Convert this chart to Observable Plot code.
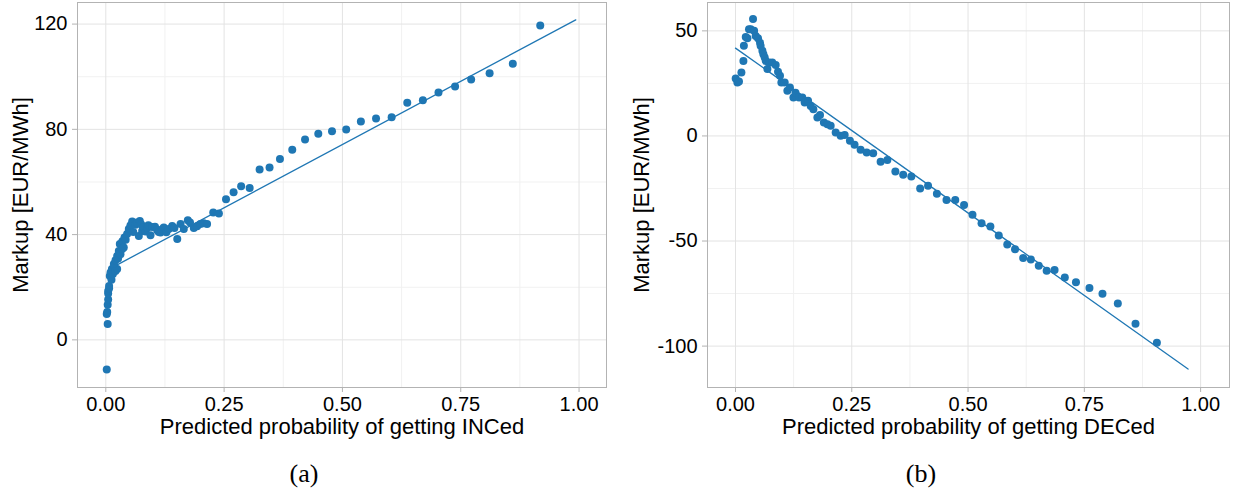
<!DOCTYPE html>
<html><head><meta charset="utf-8">
<script src="https://cdn.jsdelivr.net/npm/d3@7"></script>
<script src="https://cdn.jsdelivr.net/npm/@observablehq/plot@0.6"></script>
<style>
body{margin:0;background:#fff;}
#wrap{position:relative;width:1233px;height:495px;overflow:hidden;background:#fff}
.panel{position:absolute;top:0}
.cap{position:absolute;font-family:"Liberation Serif","Times New Roman",serif;font-size:26px;line-height:1;transform:translateX(-50%);color:#000;white-space:nowrap}
</style></head><body>
<div id="wrap">
  <div id="pa" class="panel" style="left:0"></div>
  <div id="pb" class="panel" style="left:621px"></div>
  <div class="cap" style="left:304px;top:461px">(a)</div>
  <div class="cap" style="left:921px;top:461px">(b)</div>
</div>
<script>
// ---- data: panel (a) INC ----
const incX = [0.002,0.004,0.002,0.003,0.004,0.005,0.005,0.005,0.007,0.007,0.0085,0.010,0.012,0.013,0.015,0.019,0.0205,0.024,0.017,0.0205,0.024,0.026,0.0275,0.0296,0.031,0.0346,0.035,0.038,0.0395,0.042,0.045,0.0486,0.052,0.0557,0.058,0.0627,0.066,0.0698,0.0719,0.075,0.0769,0.080,0.084,0.0874,0.090,0.0944,0.098,0.104,0.1086,0.112,0.1156,0.119,0.1225,0.128,0.133,0.1403,0.145,0.151,0.158,0.1648,0.1733,0.178,0.186,0.193,0.200,0.207,0.214,0.227,0.239,0.254,0.270,0.286,0.304,0.325,0.346,0.368,0.394,0.421,0.449,0.478,0.508,0.539,0.571,0.604,0.637,0.670,0.703,0.738,0.772,0.811,0.860,0.918];
const incY = [-11.3,6.0,9.8,10.6,13.3,15.3,17.6,18.6,19.6,20.5,24.3,25.6,22.8,26.9,25.0,27.5,26.2,26.9,28.8,30.3,31.9,30.9,33.8,36.4,32.5,34.5,37.5,35.1,38.9,38.0,40.2,42.1,43.5,45.0,41.0,43.7,44.6,39.5,45.2,43.8,41.4,42.9,41.2,42.5,43.6,39.8,42.9,43.0,41.7,41.0,40.8,42.0,42.7,40.9,42.1,43.3,42.5,38.3,44.0,42.1,45.5,44.6,42.5,43.2,44.0,44.3,44.0,48.4,48.0,53.4,56.1,58.4,57.7,64.7,65.5,68.7,72.2,76.1,78.3,79.3,79.9,83.0,84.1,84.6,90.1,91.1,94.0,96.3,98.9,101.3,104.9,119.5];
const incFitX = [0.025, 0.993];
const incFitY = [28.6, 121.6];

// ---- data: panel (b) DEC ----
const decX = [0.0004,0.004,0.0075,0.0127,0.017,0.018,0.022,0.0256,0.029,0.0327,0.0377,0.040,0.0434,0.0484,0.0527,0.054,0.0578,0.060,0.0628,0.065,0.0686,0.072,0.079,0.0864,0.0914,0.0957,0.0986,0.1058,0.1115,0.117,0.1245,0.129,0.1366,0.1437,0.1487,0.156,0.1617,0.1674,0.176,0.1817,0.190,0.1975,0.2046,0.2154,0.226,0.2347,0.246,0.256,0.269,0.282,0.296,0.312,0.3265,0.3437,0.3605,0.378,0.397,0.414,0.433,0.4536,0.4725,0.4914,0.5095,0.529,0.548,0.566,0.5843,0.601,0.6185,0.635,0.652,0.669,0.686,0.708,0.732,0.761,0.789,0.822,0.860,0.906];
const decY = [27.3,25.4,25.9,30.2,35.7,42.9,47.1,46.5,50.8,50.8,55.6,50.0,47.6,46.5,44.4,42.9,40.5,38.9,37.3,35.7,31.8,34.9,34.9,33.8,30.6,28.6,25.4,25.4,21.5,23.0,18.3,20.6,18.3,18.3,15.9,16.7,14.3,12.7,8.8,10.0,6.4,5.6,4.8,1.6,0.05,0.5,-2.3,-4.2,-6.6,-7.9,-8.2,-12.3,-11.5,-16.9,-18.5,-19.3,-25.0,-23.7,-27.5,-30.5,-30.5,-32.9,-37.5,-41.5,-43.1,-47.4,-51.7,-53.9,-58.1,-58.8,-61.8,-64.2,-63.8,-67.4,-69.6,-72.3,-75.1,-79.7,-89.4,-98.4];
const decFitX = [0.0, 0.973];
const decFitY = [41.8, -110.9];

// ---- axes ----
const xMajor = [0, 0.25, 0.5, 0.75, 1];
const xMinor = [0.125, 0.375, 0.625, 0.875];
const incYMajor = [0, 40, 80, 120];
const incYMinor = [20, 60, 100];
const decYMajor = [-100, -50, 0, 50];
const decYMinor = [-75, -25, 25];
const xTitleA = "Predicted probability of getting INCed";
const xTitleB = "Predicted probability of getting DECed";
const yTitle = "Markup [EUR/MWh]";

const BLUE = "#1f77b4";

function panel(o) {
  const n = o.xs.length;
  return Plot.plot({
    width: o.width, height: 440,
    marginLeft: o.mL, marginRight: o.mR, marginTop: 2, marginBottom: 53,
    x: {domain: o.xDomain},
    y: {domain: o.yDomain},
    style: {fontFamily: "'Liberation Sans', Arial, sans-serif", fontSize: "20px", color: "#000", background: "#fff", overflow: "visible"},
    marks: [
      Plot.ruleX(xMinor, {stroke: "#f1f1f1", strokeWidth: 1}),
      Plot.ruleY(o.yMinor, {stroke: "#f1f1f1", strokeWidth: 1}),
      Plot.ruleX(xMajor, {stroke: "#e3e3e3", strokeWidth: 1}),
      Plot.ruleY(o.yMajor, {stroke: "#e3e3e3", strokeWidth: 1}),
      Plot.dot({length: n}, {x: o.xs, y: o.ys, r: 4, fill: BLUE, stroke: null}),
      Plot.line({length: o.fx.length}, {x: o.fx, y: o.fy, stroke: BLUE, strokeWidth: 1.3}),
      Plot.frame({stroke: "#b3b3b3"}),
      Plot.axisX(xMajor, {tickSize: 5, tickPadding: 4, tickFormat: d3.format(".2f"), stroke: "#b3b3b3", fill: "#000", label: null}),
      Plot.axisY(o.yMajor, {tickSize: 5, tickPadding: 5, tickFormat: d => String(d), stroke: "#b3b3b3", fill: "#000", label: null}),
      Plot.text([o.xTitle], {text: d => d, frameAnchor: "bottom", textAnchor: "middle", lineAnchor: "top", dy: 31, fontSize: 22, fill: "#000"}),
      Plot.text([yTitle], {text: d => d, frameAnchor: "left", textAnchor: "middle", rotate: -90, lineAnchor: "top", dx: o.yOff, fontSize: 22, fill: "#000"})
    ]
  });
}

document.getElementById("pa").append(panel({
  xs: incX, ys: incY, fx: incFitX, fy: incFitY,
  xDomain: [-0.0598, 1.058], yDomain: [-18.1, 128.2],
  yMajor: incYMajor, yMinor: incYMinor,
  width: 615, mL: 77, mR: 9, xTitle: xTitleA, yOff: -65.3
}));
document.getElementById("pb").append(panel({
  xs: decX, ys: decY, fx: decFitX, fy: decFitY,
  xDomain: [-0.0602, 1.0621], yDomain: [-119.7, 63.5],
  yMajor: decYMajor, yMinor: decYMinor,
  width: 612, mL: 86, mR: 4, xTitle: xTitleB, yOff: -74
}));
</script>
</body></html>
